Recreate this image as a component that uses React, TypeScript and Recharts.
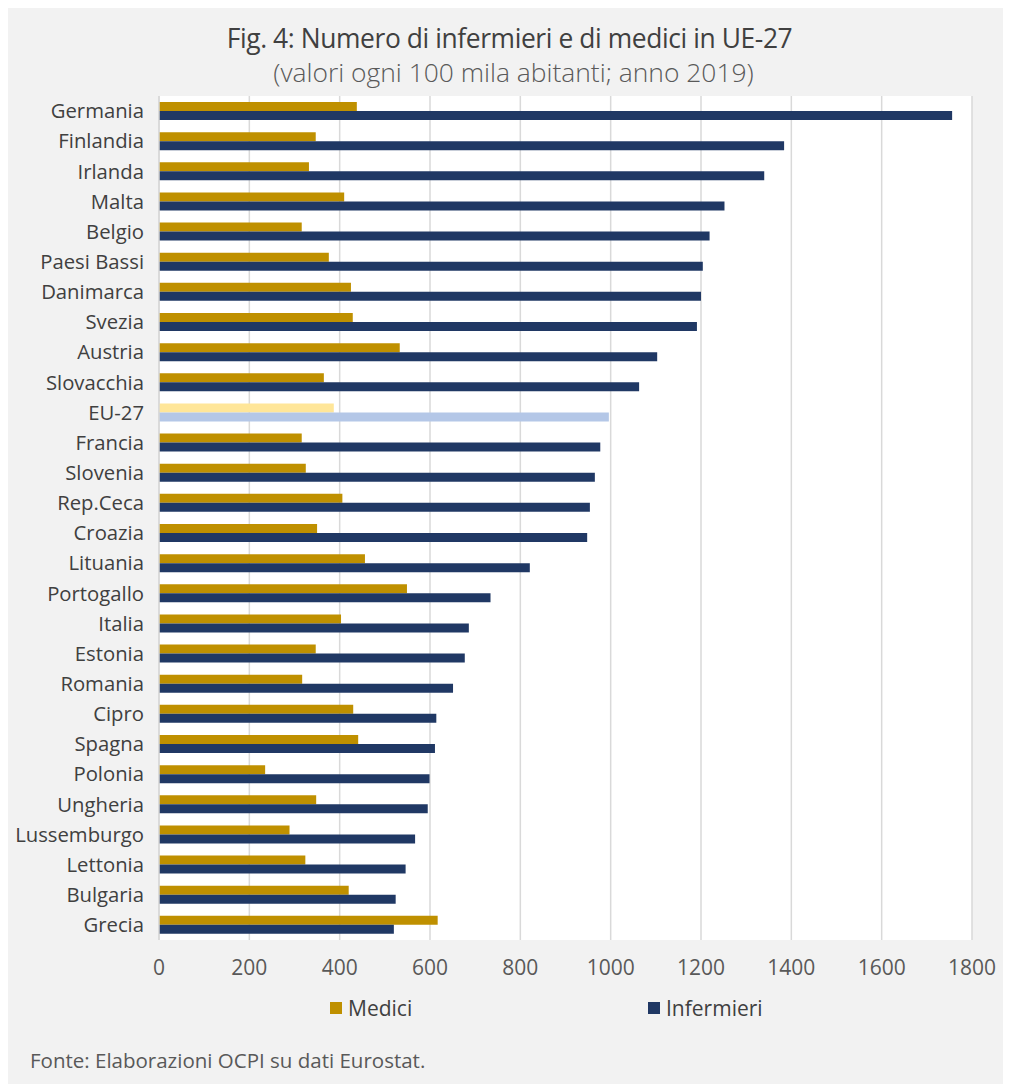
import React from "react";
import { BarChart, Bar, XAxis, YAxis, CartesianGrid, Cell } from "recharts";

const countries = ["Germania","Finlandia","Irlanda","Malta","Belgio","Paesi Bassi","Danimarca","Svezia","Austria","Slovacchia","EU-27","Francia","Slovenia","Rep.Ceca","Croazia","Lituania","Portogallo","Italia","Estonia","Romania","Cipro","Spagna","Polonia","Ungheria","Lussemburgo","Lettonia","Bulgaria","Grecia"];
const medici = [438,347,332,410,316,376,425,429,533,365,387,316,325,406,350,456,549,403,347,317,430,441,235,348,289,324,420,617];
const infermieri = [1756,1384,1340,1252,1219,1204,1200,1191,1103,1063,996,977,965,954,948,821,734,686,677,651,614,611,599,595,567,546,524,520];
const xTicks = [0,200,400,600,800,1000,1200,1400,1600,1800];
const seriesNames = ["Medici", "Infermieri"];
const highlight = "EU-27";

const data = countries.map((c, i) => ({ name: c, medici: medici[i], infermieri: infermieri[i] }));

const GOLD = "#BF9000";
const NAVY = "#203864";
const GOLD_L = "#FFE699";
const NAVY_L = "#B4C7E7";
const FONT = "'Open Sans', sans-serif";

export default function App() {
  return (
    <div style={{ position: "relative", width: 1003, height: 1076, background: "#f2f2f2", fontFamily: FONT }}>
      <div style={{ position: "absolute", top: 12, left: 0, width: 1003, textAlign: "center", fontSize: 26.4, lineHeight: "36px", color: "#404040", letterSpacing: -0.4 }}>
        Fig. 4: Numero di infermieri e di medici in UE-27
      </div>
      <div style={{ position: "absolute", top: 47, left: 4, width: 1003, textAlign: "center", fontSize: 26.4, lineHeight: "34px", color: "#595959", fontWeight: 300 }}>
        (valori ogni 100 mila abitanti; anno 2019)
      </div>
      <div style={{ position: "absolute", top: 0, left: 0 }}>
        <BarChart
          width={1003}
          height={1076}
          data={data}
          layout="vertical"
          margin={{ top: 88, right: 39, bottom: 114, left: 0 }}
          barGap={0}
          barSize={9}
        >
          <CartesianGrid horizontal={false} vertical={true} stroke="#d9d9d9" strokeWidth={1.5} fill="#ffffff" />
          <XAxis
            type="number"
            domain={[0, 1800]}
            ticks={xTicks}
            axisLine={false}
            tickLine={false}
            tickSize={0}
            tickMargin={20}
            height={30}
            tick={{ fill: "#595959", fontSize: 21, fontFamily: FONT }}
          />
          <YAxis
            type="category"
            dataKey="name"
            width={151}
            axisLine={{ stroke: "#d9d9d9", strokeWidth: 1.5 }}
            tickLine={false}
            tickSize={0}
            tickMargin={15}
            interval={0}
            tick={{ fill: "#404040", fontSize: 20.3, fontFamily: FONT }}
          />
          <Bar dataKey="medici" name={seriesNames[0]} fill={GOLD} isAnimationActive={false}>
            {data.map((d) => (
              <Cell key={d.name} fill={d.name === highlight ? GOLD_L : GOLD} />
            ))}
          </Bar>
          <Bar dataKey="infermieri" name={seriesNames[1]} fill={NAVY} isAnimationActive={false}>
            {data.map((d) => (
              <Cell key={d.name} fill={d.name === highlight ? NAVY_L : NAVY} />
            ))}
          </Bar>
        </BarChart>
      </div>
      <div style={{ position: "absolute", top: 986, left: 322, display: "flex", alignItems: "center", fontSize: 21, lineHeight: "28px", color: "#404040" }}>
        <span style={{ display: "inline-block", width: 12, height: 12, background: GOLD, marginRight: 6 }} />
        <span>{seriesNames[0]}</span>
      </div>
      <div style={{ position: "absolute", top: 986, left: 640, display: "flex", alignItems: "center", fontSize: 21, lineHeight: "28px", color: "#404040" }}>
        <span style={{ display: "inline-block", width: 12, height: 12, background: NAVY, marginRight: 6 }} />
        <span>{seriesNames[1]}</span>
      </div>
      <div style={{ position: "absolute", top: 1038, left: 22, fontSize: 20.5, lineHeight: "28px", color: "#595959" }}>
        Fonte: Elaborazioni OCPI su dati Eurostat.
      </div>
    </div>
  );
}
